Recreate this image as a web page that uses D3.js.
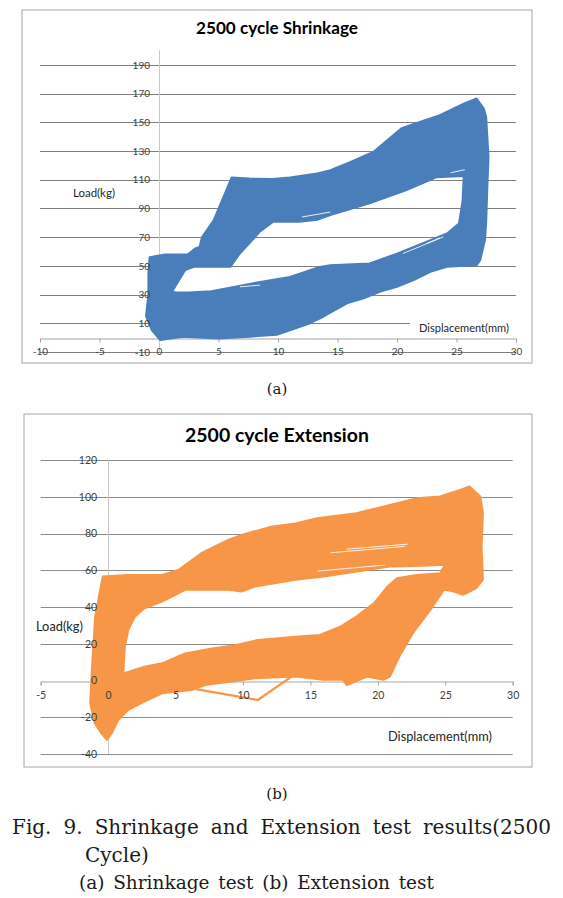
<!DOCTYPE html>
<html><head><meta charset="utf-8">
<script src="https://cdn.jsdelivr.net/npm/d3@7/dist/d3.min.js"></script>
<style>body{margin:0;background:#fff}</style>
</head><body><svg id="c" width="563" height="898"></svg>
<script>
// ---------------- data ----------------
const shrinkTitle = "2500 cycle Shrinkage";
const extTitle = "2500 cycle Extension";
const xAxisTitle = "Displacement(mm)";
const yAxisTitle = "Load(kg)";
const shrinkXTicks = [-10, -5, 0, 5, 10, 15, 20, 25, 30];
const shrinkYTicks = [-10, 10, 30, 50, 70, 90, 110, 130, 150, 170, 190];
const extXTicks = [-5, 0, 5, 10, 15, 20, 25, 30];
const extYTicks = [-40, -20, 0, 20, 40, 60, 80, 100, 120];

// Shrinkage hysteresis envelope (displacement mm, load kg)
const shrinkOuter = [[-0.8,56],[0.5,58],[2.4,58],[3,62],[3.4,63.2],[3.6,70],[4.6,82],[6.1,111.6],[7.6,110.9],[9.5,110.5],[11,111.6],[13.3,114.4],[14.4,116.7],[16.1,122.5],[18,129.4],[20.4,146],[21.1,148],[23.6,155],[25.6,163],[26.7,166.6],[27.3,159.6],[27.5,153.8],[27.7,126],[27.6,105],[27.5,79.5],[27.4,68],[27,54],[26.7,50.5],[24.2,49.3],[22.8,45.8],[21.4,40],[20,35.4],[18.6,32],[17.2,27.3],[15.8,23.8],[13.8,14.5],[12.7,10],[11,5],[9.9,2],[7.6,0.6],[5,-0.6],[2,0.6],[0.1,-1.8],[-0.6,5],[-1.1,15],[-0.9,30],[-0.9,45]];
const shrinkHole = [[1.1,32],[2.2,47],[3,49.5],[6,49.3],[6.8,58.6],[7.6,65.6],[8.5,74],[9.6,80.7],[11.8,80.7],[13.3,82],[14.4,85.3],[17.7,93.5],[20.8,102.7],[23.3,111.6],[25.6,112.5],[25.5,95],[25.2,79.5],[24.2,72.6],[22.8,67.9],[20,58.6],[17.7,51.7],[14.4,50.5],[13.5,49.3],[11,42.3],[8.5,38.9],[4.4,32.4],[2.5,31.5],[1.5,31.5]];
const shrinkStreaks = [[[12,84],[14.4,87.5]],[[20.5,58.6],[23.9,70.2]],[[22.5,65.6],[23.6,69.5]],[[24.5,114.8],[25.7,117]],[[6.8,35.4],[8.5,36.6]]];

// Extension hysteresis envelope
const extOuter = [[-0.4,56.6],[1.5,57.5],[4,57.5],[5.2,60.2],[6.9,69.3],[8.9,76.6],[9.9,79.3],[12.1,83.8],[13.9,85.5],[15.5,88.4],[18.4,91.1],[20.9,95.6],[22.9,99.3],[24.6,100.2],[26.1,103.8],[26.8,105.6],[27.6,100.2],[27.8,91.1],[27.7,72.9],[27.8,54.8],[27.3,50.2],[26.6,47.5],[26.3,46.6],[25.6,48.5],[24.9,49.3],[23.9,38.4],[22.6,25.7],[21.6,13],[20.9,2.1],[20.4,0.3],[19.2,2.1],[17.7,-2.5],[17.4,0.3],[16,0.3],[13.9,2.1],[10.9,1.2],[7.2,-2.5],[6.2,-5.2],[4,-7],[2.7,-11.5],[1.5,-16],[0.76,-21.5],[0.27,-28.8],[-0.1,-32.4],[-0.5,-28.8],[-1,-23.3],[-1.34,-12.4],[-1.2,7.5],[-0.97,34.8],[-0.5,53]];
const extHole = [[1.13,3.9],[1.25,18.4],[1.5,27.5],[2,34.8],[2.7,39.3],[4,42.9],[5,46.6],[5.7,49.3],[8.9,49.3],[9.9,48.4],[10.9,51.1],[13.9,54.8],[16,56.6],[20.9,62],[23.4,62.4],[24.9,62.9],[25.2,65.5],[24.6,58.4],[22.9,57.5],[21.4,55.7],[20.7,51.1],[19.7,42],[18.4,34.8],[17.2,29.3],[15.7,24.8],[13.9,23.9],[11.1,22.1],[9.4,19.3],[7.7,17.5],[5.7,14.8],[4,9.4],[2.7,7.5]];
const extStray = [[5.8,-3.5],[6.2,-4.3],[11.1,-10.6],[13.6,2.1]];
const extStreaks = [[[16.5,69.5],[22,73]],[[17.7,71.5],[22.2,74.2]],[[15.5,59.5],[20.5,62.8]]];

const captionA = "(a)";
const captionB = "(b)";
const captionLine1 = "Fig. 9. Shrinkage and Extension test results(2500";
const captionLine2 = "Cycle)";
const captionLine3 = "(a) Shrinkage test (b) Extension test";

// ---------------- drawing ----------------
const svg = d3.select("#c");
const FONT = "Lato, 'Open Sans', sans-serif";
const SERIF = "'DejaVu Serif', 'Liberation Serif', serif";

function fitText(sel, target) {
  const w = sel.node().getComputedTextLength();
  const fs = parseFloat(sel.attr("font-size"));
  sel.attr("font-size", fs * target / w);
}

function drawChart(cfg) {
  const g = svg.append("g");
  g.append("rect").attr("x", cfg.box[0]).attr("y", cfg.box[1])
    .attr("width", cfg.box[2]).attr("height", cfg.box[3])
    .attr("fill", "#fff").attr("stroke", "#a6a6a6").attr("stroke-width", 1);

  const x = d3.scaleLinear().domain(cfg.xDom).range(cfg.xRange);
  const y = d3.scaleLinear().domain(cfg.yDom).range(cfg.yRange);

  // gridlines
  g.append("g").selectAll("line").data(cfg.yTicks.filter(d => d !== 0)).join("line")
    .attr("x1", cfg.xRange[0])
    .attr("x2", d => (cfg.gridCut && d === cfg.gridCut[0]) ? cfg.gridCut[1] : cfg.xRange[1])
    .attr("y1", d => Math.round(y(d)) + 0.5).attr("y2", d => Math.round(y(d)) + 0.5)
    .attr("stroke", cfg.gridColor).attr("stroke-width", 1);

  // axis lines (under data)
  const xAxisLines = d3.axisBottom(x).tickValues(cfg.xTicks).tickSize(4).tickSizeOuter(4).tickFormat("");
  const gx = g.append("g").attr("transform", `translate(0,${Math.round(y(0)) + 0.5})`).call(xAxisLines);
  gx.selectAll("path,line").attr("stroke", "#a6a6a6");
  g.append("line").attr("x1", Math.round(x(0)) + 0.5).attr("x2", Math.round(x(0)) + 0.5)
    .attr("y1", cfg.yRange[1]).attr("y2", cfg.yRange[0]).attr("stroke", "#c8c8c8");

  // data envelope
  const line = d3.line().x(d => x(d[0])).y(d => y(d[1]));
  g.append("path").attr("d", line(cfg.outer) + "Z" + line(cfg.hole) + "Z")
    .attr("fill", cfg.color).attr("fill-rule", "evenodd")
    .attr("stroke", cfg.color).attr("stroke-width", 1.8).attr("stroke-linejoin", "round");
  if (cfg.stray) {
    g.append("path").attr("d", line(cfg.stray)).attr("fill", "none")
      .attr("stroke", cfg.color).attr("stroke-width", 2.2).attr("stroke-linejoin", "round");
  }
  g.append("g").selectAll("path").data(cfg.streaks).join("path")
    .attr("d", d => line(d)).attr("stroke", "#fff").attr("stroke-width", 1).attr("fill", "none").attr("opacity", 0.85);

  // tick labels (on top)
  const yAx = d3.axisLeft(y).tickValues(cfg.yTicks).tickSize(0).tickPadding(cfg.yPad).tickFormat(d => String(d));
  const gy = g.append("g").attr("transform", `translate(${x(0)},0)`).call(yAx);
  gy.select(".domain").remove();
  gy.selectAll("text").attr("font-family", FONT).attr("font-size", cfg.tickFs).attr("fill", "#404040");
  const xAx = d3.axisBottom(x).tickValues(cfg.xTicks).tickSize(0).tickPadding(cfg.xPad).tickFormat(d => String(d));
  const gxl = g.append("g").attr("transform", `translate(0,${y(0)})`).call(xAx);
  gxl.select(".domain").remove();
  gxl.selectAll("text").attr("font-family", FONT).attr("font-size", cfg.tickFs).attr("fill", "#404040");

  // titles
  const t = g.append("text").attr("x", cfg.titlePos[0]).attr("y", cfg.titlePos[1])
    .attr("text-anchor", "middle").attr("font-family", FONT).attr("font-weight", "bold")
    .attr("font-size", 16).attr("fill", "#000").text(cfg.title);
  fitText(t, cfg.titleW);

  const yl = g.append("text").attr("x", cfg.yLabPos[0]).attr("y", cfg.yLabPos[1])
    .attr("font-family", FONT).attr("font-size", 11).attr("fill", "#262626").text(yAxisTitle);
  fitText(yl, cfg.yLabW);

  const xlG = g.append("g");
  const xlBg = xlG.append("rect").attr("fill", "#fff");
  const xl = xlG.append("text").attr("x", cfg.xLabPos[0]).attr("y", cfg.xLabPos[1])
    .attr("font-family", FONT).attr("font-size", 11).attr("fill", "#262626").text(xAxisTitle);
  fitText(xl, cfg.xLabW);
  const bb = xl.node().getBBox();
  xlBg.attr("x", bb.x - 3).attr("y", bb.y).attr("width", bb.width + 6).attr("height", bb.height);
}

drawChart({
  box: [22, 10, 510, 353],
  xDom: [-10, 30], xRange: [40, 516],
  yDom: [-10, 200], yRange: [352, 50.5],
  xTicks: shrinkXTicks, yTicks: shrinkYTicks,
  gridColor: "#7f7f7f", gridCut: [10, 410],
  outer: shrinkOuter, hole: shrinkHole, streaks: shrinkStreaks, stray: null,
  color: "#4A7EBB",
  yPad: 9, xPad: 10, tickFs: 10,
  title: shrinkTitle, titlePos: [277, 34], titleW: 162,
  yLabPos: [73, 197], yLabW: 42,
  xLabPos: [419, 332], xLabW: 90
});

drawChart({
  box: [24, 414, 508, 353],
  xDom: [-5, 30], xRange: [40.7, 512.7],
  yDom: [-40, 120], yRange: [754, 460],
  xTicks: extXTicks, yTicks: extYTicks,
  gridColor: "#8c8c8c", gridCut: null,
  outer: extOuter, hole: extHole, streaks: extStreaks, stray: extStray,
  color: "#F79646",
  yPad: 11, xPad: 11, tickFs: 10.5,
  title: extTitle, titlePos: [277, 442], titleW: 184,
  yLabPos: [36, 631], yLabW: 47,
  xLabPos: [388, 741], xLabW: 104
});

// captions
const cap = svg.append("g").attr("font-family", SERIF).attr("fill", "#1a1a1a");
cap.append("text").attr("x", 277).attr("y", 394).attr("text-anchor", "middle").attr("font-size", 15).text(captionA);
cap.append("text").attr("x", 277).attr("y", 799).attr("text-anchor", "middle").attr("font-size", 15).text(captionB);

function justify(str, x0, x1, yb, fs) {
  const words = str.split(" ");
  const texts = words.map(w => cap.append("text").attr("y", yb).attr("font-size", fs).text(w));
  const widths = texts.map(t => t.node().getComputedTextLength());
  const gap = (x1 - x0 - d3.sum(widths)) / (words.length - 1);
  let xx = x0;
  texts.forEach((t, i) => { t.attr("x", xx); xx += widths[i] + gap; });
}
justify(captionLine1, 12, 551, 834, 20);
cap.append("text").attr("x", 85).attr("y", 862).attr("font-size", 20).text(captionLine2);
justify(captionLine3, 79, 434, 889, 18.5);
</script></body></html>
